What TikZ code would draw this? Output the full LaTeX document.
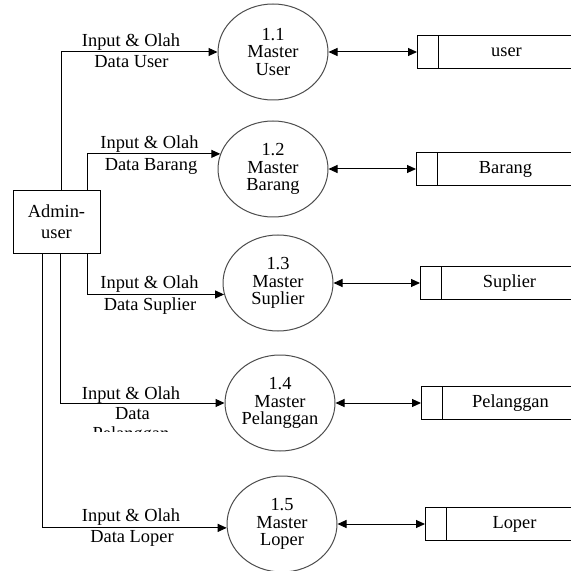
\documentclass[tikz,border=0pt]{standalone}
\usepackage{fontspec}
\setmainfont{Liberation Serif}
\usetikzlibrary{arrows.meta,shapes.geometric}

\begin{document}
\begin{tikzpicture}[x=0.5pt,y=-0.5pt,line width=0.5pt,
    >={Triangle[length=4.5pt,width=4pt]},
    proc/.style={ellipse,draw=black!70,minimum width=55pt,minimum height=48pt,
      inner sep=0pt,align=center,font=\fontsize{9.2}{8.65}\selectfont},
    store/.style={anchor=west,minimum width=68pt,minimum height=16pt,inner sep=0pt,
      font=\fontsize{9.2}{11}\selectfont},
    lbl/.style={anchor=base,inner sep=0pt,font=\fontsize{9.2}{11}\selectfont}]
  \useasboundingbox (0,0) rectangle (570,571);

  % entitas
  \node[draw,minimum width=43.5pt,minimum height=31pt,inner sep=0pt,align=center,
    font=\fontsize{9.2}{10.5}\selectfont] (admin) at (56.5,222) {Admin-\\user};

  % proses
  \node[proc] (p1) at (273,52) {1.1\\Master\\User};
  \node[proc] (p2) at (273,169) {1.2\\Master\\Barang};
  \node[proc] (p3) at (278,283) {1.3\\Master\\Suplier};
  \node[proc] (p4) at (280,403) {1.4\\Master\\Pelanggan};
  \node[proc] (p5) at (282,524) {1.5\\Master\\Loper};

  % data store
  \node[store] (s1) at (438,52) {user};
  \node[store] (s2) at (437,169) {Barang};
  \node[store] (s3) at (441,283) {Suplier};
  \node[store] (s4) at (442,403) {Pelanggan};
  \node[store] (s5) at (446,524) {Loper};
  \foreach \i in {1,...,5} {
    \coordinate (s\i l) at ([xshift=-10.5pt]s\i.west);
    \draw (s\i.north east) -- (s\i l |- s\i.north) -- (s\i l |- s\i.south) -- (s\i.south east);
    \draw (s\i.north west) -- (s\i.south west);
    \draw[<->] (p\i) -- (s\i l);
  }

  % aliran data
  \draw[->] ([xshift=2.25pt]admin.north) |- (p1);
  \draw[->] ([xshift=15.25pt]admin.north) |- (p2.164);
  \draw[->] ([xshift=15.25pt]admin.south) |- (p3.192);
  \draw[->] ([xshift=1.75pt]admin.south) |- (p4);
  \draw[->] ([xshift=-7.25pt]admin.south) |- (p5.184);

  \node[lbl] (la1) at (131,46.7) {Input \& Olah};
  \node[lbl] (lb1) at (131.5,68) {Data User};
  \node[lbl] (la2) at (149.5,149) {Input \& Olah};
  \node[lbl] (lb2) at (151,170.7) {Data Barang};
  \node[lbl] (la3) at (149.5,288) {Input \& Olah};
  \node[lbl] (lb3) at (150,310) {Data Suplier};
  \node[lbl] (la4) at (131,399) {Input \& Olah};
  \node[lbl] (lb4) at (132.5,419) {Data};
  \begin{scope}
    \clip (80,425) rectangle (190,431);
    \node[lbl] (lc4) at (131,439.5) {Pelanggan};
  \end{scope}
  \node[lbl] (la5) at (131,521.7) {Input \& Olah};
  \node[lbl] (lb5) at (132,542.7) {Data Loper};
\end{tikzpicture}
\end{document}
